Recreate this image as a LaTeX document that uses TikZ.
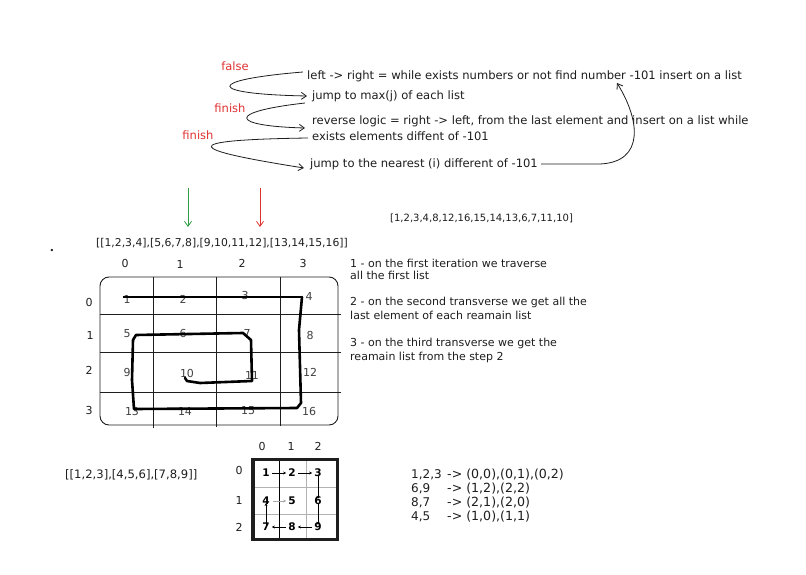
\documentclass[tikz,border=0pt]{standalone}
\usepackage{fontspec}
\setmainfont{DejaVu Sans}
\usetikzlibrary{arrows.meta,calc}
\definecolor{ink}{HTML}{1E1E1E}
\definecolor{exred}{HTML}{E03131}
\definecolor{exgreen}{HTML}{2F9E44}
\tikzset{
  txt/.style={font=\fontsize{11.55}{13}\selectfont, text=ink, inner sep=0pt, anchor=west},
  redlbl/.style={font=\fontsize{11.5}{13}\selectfont, text=exred, inner sep=0pt},
  note/.style={font=\fontsize{11}{12}\selectfont, text=ink, inner sep=0pt, anchor=west},
  axis/.style={font=\fontsize{11}{12}\selectfont, text=ink, inner sep=0pt},
  cellnum/.style={font=\fontsize{11}{12}\selectfont, text=ink!85, inner sep=0pt},
  sketch/.style={draw=ink, line width=0.8pt, -{Straight Barb[length=5pt,width=7pt]}},
  gridline/.style={draw=ink, line width=0.9pt},
  spiral/.style={draw=black, line width=2.6pt, line join=round, line cap=round},
  small/.style={font=\fontsize{10.5}{12}\selectfont\bfseries, text=black, inner sep=0pt},
  tiny/.style={draw=black, line width=0.6pt, -{Stealth[length=3pt,width=3pt]}},
  tinygrey/.style={draw=gray!70, line width=0.6pt, -{Stealth[length=3pt,width=3pt]}},
  map/.style={font=\fontsize{12.6}{14}\selectfont, text=ink, inner sep=0pt, anchor=west},
  mapl/.style={font=\fontsize{12}{14}\selectfont, text=ink, inner sep=0pt, anchor=west}
}
\begin{document}
\begin{tikzpicture}[x=1pt,y=-1pt]
\useasboundingbox[fill=white] (0,0) rectangle (806,575);

% ---- top explanatory text
\node[txt] (t1) at (307,76) {left -> right = while exists numbers or not find number -101 insert on a list};
\node[txt] (t2) at (312,96) {jump to max(j) of each list};
\node[txt] (t3) at (312,121) {reverse logic = right -> left, from the last element and insert on a list while};
\node[txt] (t4) at (312,136) {exists elements diffent of -101};
\node[txt] (t5) at (310,164) {jump to the nearest (i) different of -101};

\node[redlbl] (l1) at (235,66) {false};
\node[redlbl] (l2) at (230,108) {finish};
\node[redlbl] (l3) at (198,135) {finish};

\draw[sketch] ([shift={(-4,-4)}]t1.west) .. controls (205,80) and (205,94) .. ([xshift=-5pt]t2.west);
\draw[sketch] ([shift={(-7,7)}]t2.west) .. controls (225,112) and (230,126) .. ([shift={(-7,7)}]t3.west);
\draw[sketch] ([shift={(-4,2)}]t4.west) .. controls (170,140) and (190,150) .. ([shift={(-6,4)}]t5.west);
\coordinate (up) at (617,83);
\draw[sketch] ([xshift=3pt]t5.east) -- (600,164) .. controls (645,162) and (640,120) .. (up);

% ---- list and arrows
\node[font=\fontsize{10.8}{14}\selectfont, text=ink, inner sep=0pt, anchor=west] (big) at (96,243) {[[1,2,3,4],[5,6,7,8],[9,10,11,12],[13,14,15,16]]};
\coordinate (g0) at (188,188);
\coordinate (g1) at (188,227);
\coordinate (r0) at (260,188);
\coordinate (r1) at (260,227);
\draw[draw=exgreen, line width=0.8pt, -{Straight Barb[length=5pt,width=7pt]}] (g0) -- (g1);
\draw[draw=exred, line width=0.8pt, -{Straight Barb[length=5pt,width=7pt]}] (r0) -- (r1);
\node[font=\fontsize{10}{14}\selectfont, text=ink, inner sep=0pt, anchor=west] (res) at (390,218) {[1,2,3,4,8,12,16,15,14,13,6,7,11,10]};
\node[font=\fontsize{8}{10}\selectfont, text=ink, inner sep=0pt] (dot) at (52,251) {•};

% ---- notes
\node[note] (n1a) at (350,263) {1 - on the first iteration we traverse};
\node[note] (n1b) at (350,275) {all the first list};
\node[note] (n2a) at (350,302) {2 - on the second transverse we get all the};
\node[note] (n2b) at (350,315) {last element of each reamain list};
\node[note] (n3a) at (350,343) {3 - on the third transverse we get the};
\node[note] (n3b) at (350,357) {reamain list from the step 2};

% ---- 4x4 grid
\node[axis] (c0) at (125,263) {0};
\node[axis] (c1) at (180,264) {1};
\node[axis] (c2) at (242,263) {2};
\node[axis] (c3) at (303,263) {3};
\node[axis] (r0l) at (89,302) {0};
\node[axis] (r1l) at (90,335) {1};
\node[axis] (r2l) at (89,370) {2};
\node[axis] (r3l) at (89,410) {3};

\draw[gridline, rounded corners=9pt] (100,277) rectangle (338,425);
\draw[gridline] (153,277) -- (153,428);
\draw[gridline] (216,277) -- (216,427);
\draw[gridline] (280,277) -- (280,426);
\draw[gridline] (100,314) -- (341,314);
\draw[gridline] (100,352) -- (341,352);
\draw[gridline] (100,392) -- (341,392);

\node[cellnum] (n1) at (127,299) {1};
\node[cellnum] (n2) at (183,299) {2};
\node[cellnum] (n3) at (245,295) {3};
\node[cellnum] (n4) at (309,296) {4};
\node[cellnum] (n5) at (127,334) {5};
\node[cellnum] (n6) at (183,333) {6};
\node[cellnum] (n7) at (247,333) {7};
\node[cellnum] (n8) at (310,335) {8};
\node[cellnum] (n9) at (127,372) {9};
\node[cellnum] (n10) at (187,373) {10};
\node[cellnum] (n11) at (252,375) {11};
\node[cellnum] (n12) at (310,372) {12};
\node[cellnum] (n13) at (132,411) {13};
\node[cellnum] (n14) at (185,411) {14};
\node[cellnum] (n15) at (248,411) {15};
\node[cellnum] (n16) at (309,411) {16};

\draw[draw=black, line width=1.2pt] (123,297) -- (302,297);
\draw[spiral] (302,297) -- (299,330) -- (301,403) -- (297,408) -- (134,409) -- (132,380) -- (133,340) -- (136,335) -- (243,333) -- (251,340) -- (252,381) -- (200,383) -- (187,381) -- (185,378);

% ---- second example
\node[font=\fontsize{11.6}{14}\selectfont, text=ink, inner sep=0pt, anchor=west] (small3) at (65,475) {[[1,2,3],[4,5,6],[7,8,9]]};

\node[axis] (sc0) at (262,446) {0};
\node[axis] (sc1) at (291,446) {1};
\node[axis] (sc2) at (318,446) {2};
\node[axis] (sr0) at (239,470) {0};
\node[axis] (sr1) at (239,500) {1};
\node[axis] (sr2) at (239,527) {2};

\draw[draw=gray!60, line width=0.9pt] (306,460) -- (306,539);
\draw[draw=gray!60, line width=0.9pt] (254,487) -- (337,487);
\draw[draw=gray!60, line width=0.9pt] (254,514) -- (337,514);
\draw[draw=black, line width=1pt] (279,460) -- (279,539);
\draw[draw=ink, line width=3.5pt] (253,459.5) rectangle (337.5,539.5);

\node[small] (s1) at (266,473) {1};
\node[small] (s2) at (292,473) {2};
\node[small] (s3) at (318,473) {3};
\node[small] (s4) at (266,501) {4};
\node[small] (s5) at (292,501) {5};
\node[small] (s6) at (318,501) {6};
\node[small] (s7) at (266,527) {7};
\node[small] (s8) at (292,527) {8};
\node[small] (s9) at (318,527) {9};

\draw[tiny] ([xshift=2pt]s1.east) -- ([xshift=-2pt]s2.west);
\draw[tiny] ([xshift=2pt]s2.east) -- ([xshift=-2pt]s3.west);
\draw[tiny] ([yshift=2pt]s3.south) -- ([yshift=-2pt]s6.north);
\draw[tinygrey] ([xshift=3pt]s4.east) -- ([xshift=-2pt]s5.west);
\draw[tiny] ([yshift=2pt]s6.south) -- ([yshift=-2pt]s9.north);
\draw[tiny] ([xshift=-2pt]s9.west) -- ([xshift=2pt]s8.east);
\draw[tiny] ([xshift=-2pt]s8.west) -- ([xshift=2pt]s7.east);
\draw[tiny] ([yshift=-2pt]s7.north) -- ([yshift=2pt]s4.south);

% ---- mapping
\node[mapl] (m1a) at (411,475) {1,2,3};
\node[map] (m1b) at (447,475) {-> (0,0),(0,1),(0,2)};
\node[mapl] (m2a) at (411,489) {6,9};
\node[map] (m2b) at (447,489) {-> (1,2),(2,2)};
\node[mapl] (m3a) at (411,503) {8,7};
\node[map] (m3b) at (447,503) {-> (2,1),(2,0)};
\node[mapl] (m4a) at (411,517) {4,5};
\node[map] (m4b) at (447,517) {-> (1,0),(1,1)};
\end{tikzpicture}
\end{document}
